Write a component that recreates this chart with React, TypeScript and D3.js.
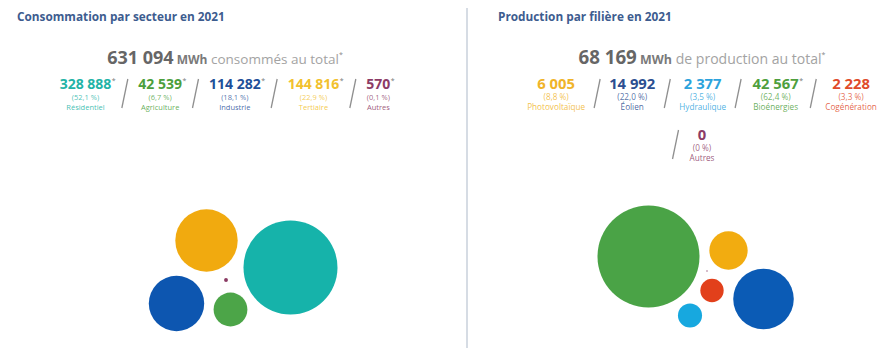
import React, { useMemo } from 'react';
import * as d3 from 'd3';

// ---------- data ----------
const consoCategories = ['Résidentiel', 'Agriculture', 'Industrie', 'Tertiaire', 'Autres'];
const consoValues = [328888, 42539, 114282, 144816, 570];
const consoPercents = ['(52,1 %)', '(6,7 %)', '(18,1 %)', '(22,9 %)', '(0,1 %)'];
const consoStarred = [true, true, true, true, true];
const consoTotal = 631094;
const consoTitle = 'Consommation par secteur en 2021';
const consoTotalText = 'consommés au total';

const prodCategories = ['Photovoltaïque', 'Éolien', 'Hydraulique', 'Bioénergies', 'Cogénération', 'Autres'];
const prodValues = [6005, 14992, 2377, 42567, 2228, 0];
const prodPercents = ['(8,8 %)', '(22,0 %)', '(3,5 %)', '(62,4 %)', '(3,3 %)', '(0 %)'];
const prodStarred = [false, false, false, true, false, false];
const prodTotal = 68169;
const prodTitle = 'Production par filière en 2021';
const prodTotalText = 'de production au total';

const unit = 'MWh';

// ---------- styles ----------
const consoTextColors = ['#22b3a6', '#4c9f3c', '#1f4f99', '#f2c12e', '#8c3b66'];
const consoCircleColors = ['#16b3aa', '#4ca548', '#0d56b0', '#f1aa0f', '#8a3a63'];
const prodTextColors = ['#f0b429', '#2c4f91', '#2ca3dc', '#4f9f3e', '#e04b2b', '#8c3b66'];
const prodCircleColors = ['#f2ac10', '#0b5bb5', '#17a8df', '#4aa346', '#e2401b', '#c9a9bb'];

// bubble layout (offsets from cluster centre, px)
const consoBubbleDX = [47.5, -12.5, -66.5, -36.5, -17];
const consoBubbleDY = [-2.5, 39.5, 33.5, -29.5, 10];
const prodBubbleDX = [32.5, 67.5, -6, -47.5, 16, 11];
const prodBubbleDY = [-16.5, 32, 48.5, -10.5, 23.5, 4];

const FONT = "'Open Sans', 'DejaVu Sans', sans-serif";
const W = 879;
const H = 348;

const fr = d3.formatLocale({ decimal: ',', thousands: '\u202f', grouping: [3], currency: ['', ' €'] });
const fmt = (v: number) => fr.format(',d')(v).replace(/\u202f/g, ' ');

let _ctx: CanvasRenderingContext2D | null = null;
function textW(s: string, font: string) {
  if (!_ctx) _ctx = document.createElement('canvas').getContext('2d');
  if (!_ctx) return s.length * 7;
  _ctx.font = font;
  return _ctx.measureText(s).width;
}

const MAX_ROW = 370;
const ROW_STEP = 51;

type Item = { x: number; row: number; slashX: number | null; w: number };

function layoutItems(
  values: number[],
  pcts: string[],
  cats: string[],
  starred: boolean[],
  center: number,
  vSize: number,
  sSize: number,
  gap: number
): Item[] {
  const vFont = `700 ${vSize}px ${FONT}`;
  const sFont = `400 ${sSize}px ${FONT}`;
  const widths = values.map((v, i) => {
    const vw = textW(fmt(v), vFont) + (starred[i] ? 5 : 0);
    return Math.max(vw, textW(pcts[i], sFont), textW(cats[i], sFont));
  });
  const rows: number[][] = [[]];
  let cur = 0;
  widths.forEach((w, i) => {
    const add = (i > 0 ? gap : 0) + w;
    if (cur + add > MAX_ROW && rows[rows.length - 1].length > 0) {
      rows.push([]);
      cur = 0;
    }
    rows[rows.length - 1].push(i);
    cur += add;
  });
  const items: Item[] = [];
  rows.forEach((idxs, r) => {
    // the leading slash of a wrapped row is not counted for centring
    const total = idxs.reduce((s, i, k) => s + (i > 0 && k > 0 ? gap : 0) + widths[i], 0);
    let x = center - total / 2;
    idxs.forEach((i, k) => {
      let slashX: number | null = null;
      if (i > 0) {
        if (k === 0) {
          slashX = x - gap / 2 - 2;
        } else {
          slashX = x + gap / 2;
          x += gap;
        }
      }
      items[i] = { x: x + widths[i] / 2, row: r, slashX, w: widths[i] };
      x += widths[i];
    });
  });
  return items;
}

type PanelProps = {
  title: string;
  titleX: number;
  center: number;
  total: number;
  totalText: string;
  cats: string[];
  values: number[];
  pcts: string[];
  starred: boolean[];
  textColors: string[];
  circleColors: string[];
  dx: number[];
  dy: number[];
  bubbleCX: number;
  bubbleCY: number;
  maxR: number;
  minR: number;
  vSize: number;
  sSize: number;
  gap: number;
  totalScale: number;
};

function Panel(p: PanelProps) {
  const items = useMemo(
    () => layoutItems(p.values, p.pcts, p.cats, p.starred, p.center, p.vSize, p.sSize, p.gap),
    [p.values, p.pcts, p.cats, p.starred, p.center, p.vSize, p.sSize, p.gap]
  );
  const rScale = d3.scaleSqrt().domain([0, d3.max(p.values) as number]).range([0, p.maxR]);
  const xPos = d3.scaleLinear().domain([0, 1]).range([p.bubbleCX, p.bubbleCX + 1]);
  const yPos = d3.scaleLinear().domain([0, 1]).range([p.bubbleCY, p.bubbleCY + 1]);

  const ts = p.totalScale;
  const totalStr = fmt(p.total);
  const wNum = textW(totalStr, `700 ${18 * ts}px ${FONT}`);
  const wUnit = textW(' ' + unit, `700 ${12 * ts}px ${FONT}`);
  const wTxt = textW(' ' + p.totalText, `400 ${13.5 * ts}px ${FONT}`);
  const totalStart = p.center - (wNum + wUnit + wTxt + 4) / 2;
  const vFont = `700 ${p.vSize}px ${FONT}`;

  const rowTop = 80;
  return (
    <g>
      <text x={p.titleX} y={21} fontFamily={FONT} fontWeight={700} fontSize={11.8} fill="#3d5c8f">
        {p.title}
      </text>
      <text x={totalStart} y={64} fontFamily={FONT}>
        <tspan fontWeight={700} fontSize={18 * ts} fill="#666">{totalStr}</tspan>
        <tspan fontWeight={700} fontSize={12 * ts} fill="#7a7a7a">{' ' + unit}</tspan>
        <tspan fontWeight={400} fontSize={13.5 * ts} fill="#a3a3a3">{' ' + p.totalText}</tspan>
        <tspan fontSize={7} fill="#888" dy={-7}>*</tspan>
      </text>
      {items.map((it, i) => {
        const top = rowTop + it.row * ROW_STEP;
        const vStr = fmt(p.values[i]);
        const vw = textW(vStr, vFont);
        return (
          <g key={p.cats[i]}>
            {it.slashX !== null && (
              <line
                x1={it.slashX - 3}
                y1={top + 28}
                x2={it.slashX + 3}
                y2={top - 1}
                stroke="#8f8f8f"
                strokeWidth={1.3}
              />
            )}
            <text x={it.x} y={top + 9} textAnchor="middle" fontFamily={FONT} fontWeight={700} fontSize={p.vSize} fill={p.textColors[i]}>
              {vStr}
            </text>
            {p.starred[i] && (
              <text x={it.x + vw / 2 + 0.5} y={top + 3} fontFamily={FONT} fontSize={7} fill="#777">
                *
              </text>
            )}
            <text x={it.x} y={top + 19.5} textAnchor="middle" fontFamily={FONT} fontSize={p.sSize} fill={p.textColors[i]} fillOpacity={0.8}>
              {p.pcts[i]}
            </text>
            <text x={it.x} y={top + 29.5} textAnchor="middle" fontFamily={FONT} fontSize={p.sSize} fill={p.textColors[i]} fillOpacity={0.85}>
              {p.cats[i]}
            </text>
          </g>
        );
      })}
      {p.values.map((v, i) => (
        <circle
          key={'c' + i}
          cx={xPos(p.dx[i])}
          cy={yPos(p.dy[i])}
          r={Math.max(rScale(v), p.minR)}
          fill={p.circleColors[i]}
        />
      ))}
    </g>
  );
}

export default function App() {
  return (
    <svg
      width={W}
      height={H}
      viewBox={`0 0 ${W} ${H}`}
      style={{ position: 'fixed', left: 0, top: 0, background: '#fff' }}
    >
      <rect x={0} y={0} width={W} height={H} fill="#fff" />
      <line x1={467} y1={8} x2={467} y2={H} stroke="#c9d1db" strokeWidth={1.5} />
      <Panel
        title={consoTitle}
        titleX={17}
        center={225}
        total={consoTotal}
        totalText={consoTotalText}
        cats={consoCategories}
        values={consoValues}
        pcts={consoPercents}
        starred={consoStarred}
        textColors={consoTextColors}
        circleColors={consoCircleColors}
        dx={consoBubbleDX}
        dy={consoBubbleDY}
        bubbleCX={243}
        bubbleCY={270}
        maxR={47}
        minR={0}
        vSize={14}
        sSize={7.5}
        gap={22}
        totalScale={1}
      />
      <Panel
        title={prodTitle}
        titleX={498}
        center={702}
        total={prodTotal}
        totalText={prodTotalText}
        cats={prodCategories}
        values={prodValues}
        pcts={prodPercents}
        starred={prodStarred}
        textColors={prodTextColors}
        circleColors={prodCircleColors}
        dx={prodBubbleDX}
        dy={prodBubbleDY}
        bubbleCX={696}
        bubbleCY={267}
        maxR={51}
        minR={1}
        vSize={14.8}
        sSize={8.2}
        gap={24}
        totalScale={1.04}
      />
    </svg>
  );
}
